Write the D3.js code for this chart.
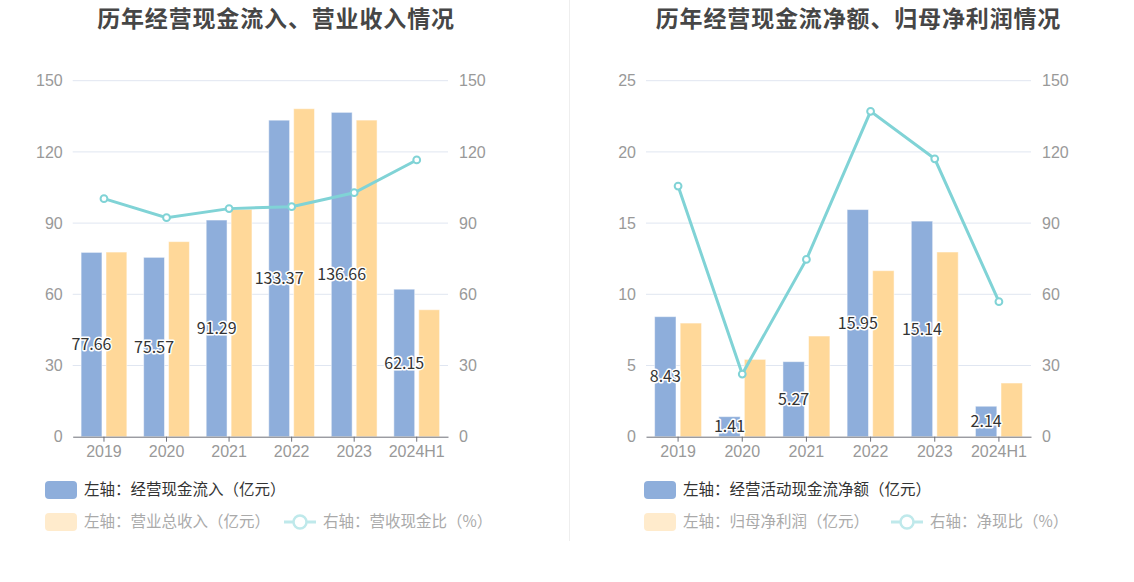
<!DOCTYPE html>
<html>
<head>
<meta charset="utf-8">
<script src="https://cdn.jsdelivr.net/npm/d3@7"></script>
<style>
html,body{margin:0;padding:0;background:#fff;}
svg{display:block;font-family:"Noto Sans CJK SC","Noto Sans",sans-serif;}
</style>
</head>
<body>
<svg id="c" width="1134" height="582"></svg>
<script>
const categories = ["2019","2020","2021","2022","2023","2024H1"];
// Left chart
const cashInflow = [77.66, 75.57, 91.29, 133.37, 136.66, 62.15];
const revenue = [77.8, 82.2, 95.8, 138.2, 133.4, 53.5];
const revCashRatio = [100.3, 92.3, 96.1, 96.9, 102.8, 116.6];
const leftTicksL = [0, 30, 60, 90, 120, 150];
const leftTicksR = [0, 30, 60, 90, 120, 150];
// Right chart
const netCashFlow = [8.43, 1.41, 5.27, 15.95, 15.14, 2.14];
const netProfit = [7.98, 5.43, 7.07, 11.66, 12.97, 3.77];
const netCashRatio = [105.6, 26.4, 74.7, 137.1, 117.1, 56.9];
const rightTicksL = [0, 5, 10, 15, 20, 25];
const rightTicksR = [0, 30, 60, 90, 120, 150];

const BLUE = "#8eaedb", YELLOW = "#ffd899", LINE = "#80d3d6";
const svg = d3.select("#c");

function chart(cfg){
  const g = svg.append("g");
  const top = 80.7, bottom = 436.7;
  const x = d3.scaleBand().domain(categories).range([cfg.x0, cfg.x1]).padding(0);
  const yL = d3.scaleLinear().domain([0, d3.max(cfg.ticksL)]).range([bottom, top]);
  const yR = d3.scaleLinear().domain([0, d3.max(cfg.ticksR)]).range([bottom, top]);

  // title
  g.append("text").attr("x", cfg.titleX).attr("y", 27)
    .attr("text-anchor","middle").attr("font-size", 23).attr("font-weight","bold")
    .attr("letter-spacing", 0.85)
    .attr("fill","#464646").text(cfg.title);

  // grid
  g.selectAll(".grid").data(cfg.ticksL.filter(d=>d>0)).join("line")
    .attr("x1", cfg.x0).attr("x2", cfg.x1)
    .attr("y1", d=>yL(d)).attr("y2", d=>yL(d))
    .attr("stroke","#e0e6f1").attr("stroke-width",1);

  const axL = g.append("g").attr("transform",`translate(${cfg.x0},0)`)
    .call(d3.axisLeft(yL).tickValues(cfg.ticksL).tickSize(0).tickPadding(10));
  axL.select(".domain").remove();
  axL.selectAll("text").attr("fill","#999").attr("font-size",16).attr("font-family","inherit");

  const axR = g.append("g").attr("transform",`translate(${cfg.x1},0)`)
    .call(d3.axisRight(yR).tickValues(cfg.ticksR).tickSize(0).tickPadding(11));
  axR.select(".domain").remove();
  axR.selectAll("text").attr("fill","#999").attr("font-size",16).attr("font-family","inherit");

  const bw = x.bandwidth()/3, gap = x.bandwidth()*0.065;
  const cx = d => x(d) + x.bandwidth()/2;

  g.selectAll(".b1").data(categories).join("rect")
    .attr("x", d=>cx(d) - gap/2 - bw).attr("width", bw)
    .attr("y", (d,i)=>yL(cfg.s1[i])).attr("height",(d,i)=>bottom - yL(cfg.s1[i]))
    .attr("fill", BLUE).attr("stroke","rgba(255,255,255,0.5)").attr("stroke-width",1);
  g.selectAll(".b2").data(categories).join("rect")
    .attr("x", d=>cx(d) + gap/2).attr("width", bw)
    .attr("y", (d,i)=>yL(cfg.s2[i])).attr("height",(d,i)=>bottom - yL(cfg.s2[i]))
    .attr("fill", YELLOW).attr("stroke","rgba(255,255,255,0.5)").attr("stroke-width",1);

  const axX = g.append("g").attr("transform",`translate(0,${bottom})`)
    .call(d3.axisBottom(x).tickSize(5).tickPadding(4).tickSizeOuter(0));
  axX.select(".domain").attr("stroke","#6e7079");
  axX.selectAll(".tick line").attr("stroke","#6e7079");
  axX.selectAll("text").attr("fill","#999").attr("font-size",16).attr("font-family","inherit");

  const line = d3.line().x(d=>cx(d[0])).y(d=>yR(d[1]));
  const pts = categories.map((c,i)=>[c, cfg.s3[i]]);
  g.append("path").datum(pts).attr("d", line).attr("fill","none")
    .attr("stroke", LINE).attr("stroke-width", 3);
  g.selectAll(".pt").data(pts).join("circle")
    .attr("cx", d=>cx(d[0])).attr("cy", d=>yR(d[1])).attr("r", 3.4)
    .attr("fill","#fff").attr("stroke", LINE).attr("stroke-width", 2);

  g.selectAll(".lbl").data(categories).join("text")
    .attr("x", d=>cx(d) - gap/2 - bw/2)
    .attr("y", (d,i)=>(yL(cfg.s1[i]) + bottom)/2)
    .attr("dy","0.35em").attr("text-anchor","middle")
    .attr("font-size",16).attr("fill","#333")
    .attr("stroke","#fff").attr("stroke-width",3).attr("paint-order","stroke")
    .attr("stroke-linejoin","round")
    .text((d,i)=>cfg.s1[i].toFixed(2));

  // legend
  const lx = cfg.legendX;
  g.append("rect").attr("x", lx).attr("y", 481).attr("width",32).attr("height",18).attr("rx",4).attr("fill",BLUE);
  g.append("text").attr("x", lx+39).attr("y", 490).attr("dy","0.35em").attr("font-size",15.5)
    .attr("fill","#333").text(cfg.leg[0]);
  g.append("rect").attr("x", lx).attr("y", 513).attr("width",32).attr("height",18).attr("rx",4).attr("fill","#ffebcc");
  g.append("text").attr("x", lx+39).attr("y", 522).attr("dy","0.35em").attr("font-size",15.5)
    .attr("fill","#aaa").text(cfg.leg[1]);
  const ix = cfg.iconX;
  g.append("line").attr("x1", ix).attr("x2", ix+32).attr("y1",522).attr("y2",522)
    .attr("stroke","#bfe9eb").attr("stroke-width",3);
  g.append("circle").attr("cx", ix+16).attr("cy",522).attr("r",6.5)
    .attr("fill","#fff").attr("stroke","#bfe9eb").attr("stroke-width",2.5);
  g.append("text").attr("x", ix+39).attr("y", 522).attr("dy","0.35em").attr("font-size",15.5)
    .attr("fill","#aaa").text(cfg.leg[2]);
}

chart({x0:72.7, x1:448, titleX:276, title:"历年经营现金流入、营业收入情况",
  ticksL:leftTicksL, ticksR:leftTicksR, s1:cashInflow, s2:revenue, s3:revCashRatio,
  legendX:45, iconX:284,
  leg:["左轴：经营现金流入（亿元）","左轴：营业总收入（亿元）","右轴：营收现金比（%）"]});
chart({x0:646, x1:1031, titleX:858.5, title:"历年经营现金流净额、归母净利润情况",
  ticksL:rightTicksL, ticksR:rightTicksR, s1:netCashFlow, s2:netProfit, s3:netCashRatio,
  legendX:644, iconX:891,
  leg:["左轴：经营活动现金流净额（亿元）","左轴：归母净利润（亿元）","右轴：净现比（%）"]});

svg.append("line").attr("x1",569.5).attr("x2",569.5).attr("y1",0).attr("y2",541)
  .attr("stroke","#eee").attr("stroke-width",1);
</script>
</body>
</html>
